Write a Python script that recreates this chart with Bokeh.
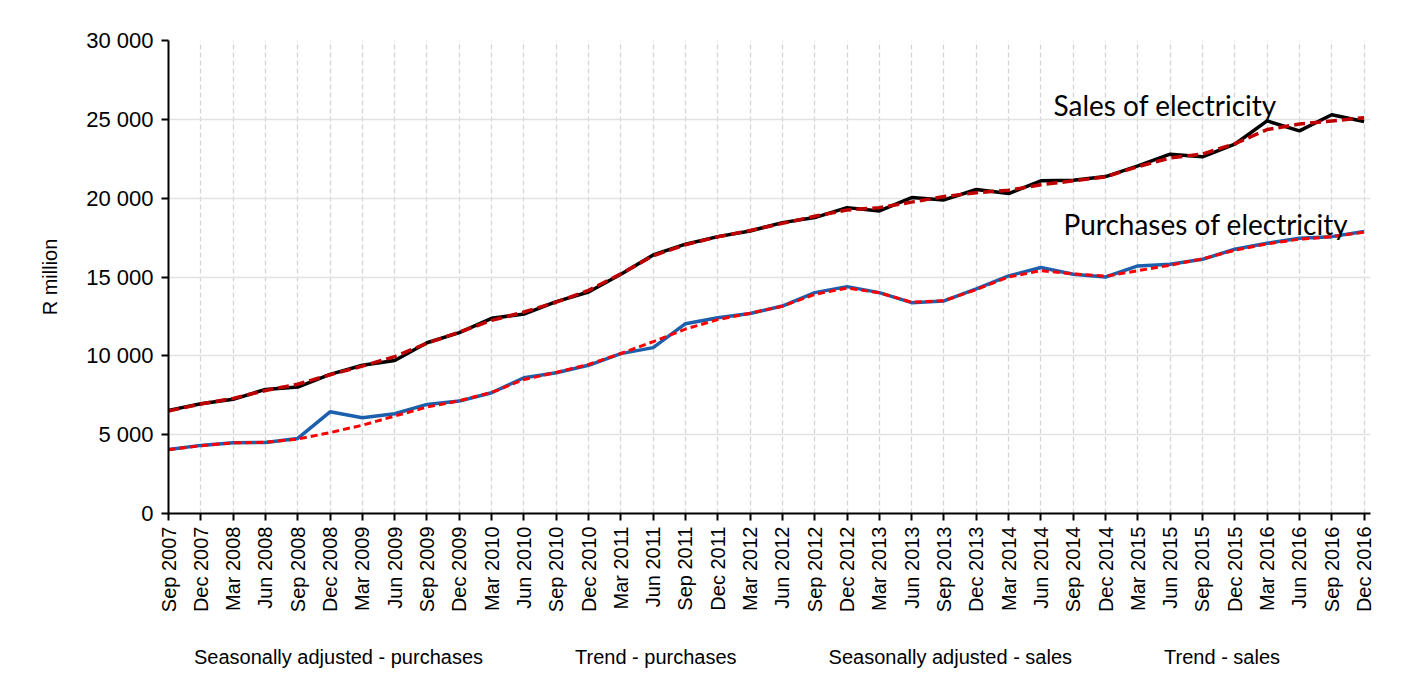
import math
from bokeh.plotting import figure
from bokeh.models import Range1d, FixedTicker, Legend, LegendItem, Label
from bokeh.layouts import column
from bokeh.embed import file_html
from bokeh.resources import INLINE

quarters = [
    "Sep 2007", "Dec 2007", "Mar 2008", "Jun 2008", "Sep 2008", "Dec 2008",
    "Mar 2009", "Jun 2009", "Sep 2009", "Dec 2009", "Mar 2010", "Jun 2010",
    "Sep 2010", "Dec 2010", "Mar 2011", "Jun 2011", "Sep 2011", "Dec 2011",
    "Mar 2012", "Jun 2012", "Sep 2012", "Dec 2012", "Mar 2013", "Jun 2013",
    "Sep 2013", "Dec 2013", "Mar 2014", "Jun 2014", "Sep 2014", "Dec 2014",
    "Mar 2015", "Jun 2015", "Sep 2015", "Dec 2015", "Mar 2016", "Jun 2016",
    "Sep 2016", "Dec 2016",
]

sa_purchases = [
    4060, 4320, 4490, 4510, 4760, 6450, 6070, 6330, 6920, 7130,
    7660, 8610, 8930, 9400, 10140, 10520, 12040, 12420, 12680, 13160,
    14010, 14390, 14010, 13370, 13480, 14250, 15070, 15600, 15170, 15000,
    15700, 15810, 16120, 16760, 17140, 17460, 17560, 17880,
]

trend_purchases = [
    4050, 4300, 4480, 4520, 4720, 5130, 5600, 6180, 6750, 7150,
    7680, 8500, 8950, 9450, 10150, 10900, 11700, 12300, 12700, 13150,
    13900, 14300, 14000, 13400, 13500, 14200, 15000, 15400, 15200, 15050,
    15400, 15750, 16150, 16700, 17100, 17400, 17550, 17850,
]

sa_sales = [
    6540, 6960, 7240, 7870, 8020, 8820, 9400, 9700, 10830, 11470,
    12380, 12650, 13440, 14050, 15170, 16400, 17080, 17560, 17920, 18450,
    18770, 19400, 19190, 20040, 19890, 20550, 20290, 21100, 21140, 21370,
    22050, 22790, 22620, 23420, 24900, 24270, 25290, 24860,
]

trend_sales = [
    6500, 6950, 7300, 7800, 8200, 8800, 9350, 9950, 10800, 11500,
    12250, 12780, 13400, 14150, 15200, 16350, 17050, 17550, 17950, 18400,
    18850, 19250, 19400, 19750, 20100, 20350, 20500, 20850, 21100, 21350,
    22000, 22550, 22800, 23450, 24350, 24700, 24900, 25100,
]

y_ticks = [0, 5000, 10000, 15000, 20000, 25000, 30000]
y_tick_labels = ["0", "5 000", "10 000", "15 000", "20 000", "25 000", "30 000"]

series_names = ["Seasonally adjusted - purchases", "Trend - purchases",
                "Seasonally adjusted - sales", "Trend - sales"]

x = list(range(len(quarters)))
FONT = "Liberation Sans"

STYLES = [
    dict(line_color="#1c5fad", line_width=3.5),
    dict(line_color="#ff0000", line_width=3, line_dash="7 4"),
    dict(line_color="black", line_width=3.5),
    dict(line_color="#c00000", line_width=3.5, line_dash="11 5"),
]

p = figure(
    frame_width=1202, frame_height=473,
    output_backend="svg", toolbar_location=None,
    x_range=Range1d(0, 37.2), y_range=Range1d(0, 30000),
    min_border_left=168, min_border_right=30, min_border_top=40, min_border_bottom=122,
)
p.outline_line_color = None
p.background_fill_color = "white"
p.border_fill_color = "white"

# axes
p.xaxis.ticker = FixedTicker(ticks=x)
p.xaxis.major_label_overrides = {i: q for i, q in zip(x, quarters)}
p.xaxis.major_label_orientation = math.pi / 2
p.yaxis.ticker = FixedTicker(ticks=y_ticks)
p.yaxis.major_label_overrides = {t: l for t, l in zip(y_ticks, y_tick_labels)}
p.yaxis.axis_label = "R million"
p.yaxis.axis_label_text_font = FONT
p.yaxis.axis_label_text_font_size = "20px"
p.yaxis.axis_label_text_font_style = "normal"
p.yaxis.axis_label_text_color = "black"
p.yaxis.axis_label_standoff = 22
for ax in (p.xaxis, p.yaxis):
    ax.axis_line_color = "black"
    ax.axis_line_width = 2
    ax.major_tick_line_color = "black"
    ax.major_tick_line_width = 2
    ax.major_tick_out = 7
    ax.major_tick_in = 0
    ax.minor_tick_line_color = None
    ax.major_label_text_font = FONT
    ax.major_label_text_color = "black"
p.xaxis.major_label_text_font_size = "20px"
p.yaxis.major_label_text_font_size = "22px"
p.xaxis.major_label_standoff = 6
p.yaxis.major_label_standoff = 8

# grids
p.xgrid.ticker = FixedTicker(ticks=x)
p.xgrid.grid_line_color = "#d4d4d4"
p.xgrid.grid_line_dash = "5 3"
p.xgrid.grid_line_width = 1.3
p.ygrid.ticker = FixedTicker(ticks=y_ticks)
p.ygrid.grid_line_color = "#e2e2e2"
p.ygrid.grid_line_width = 1.3

for ys, st in zip([sa_purchases, trend_purchases, sa_sales, trend_sales], STYLES):
    p.line(x, ys, **st)

for txt, lx, ly in [("Sales of electricity", 27.39, 25940),
                    ("Purchases of electricity", 27.7, 18390)]:
    p.add_layout(Label(x=lx, y=ly, text=txt, text_font="Lato",
                       text_font_size="28px", text_color="black",
                       text_baseline="alphabetic"))

# legend strip below the chart (a separate figure so the legend is not clipped)
lg = figure(
    frame_width=1400, frame_height=44, output_backend="svg", toolbar_location=None,
    x_range=Range1d(0, 1), y_range=Range1d(0, 1),
    x_axis_location=None, y_axis_location=None,
    min_border_left=0, min_border_right=0, min_border_top=0, min_border_bottom=0,
)
lg.outline_line_color = None
lg.xgrid.visible = False
lg.ygrid.visible = False
items = []
for name, st in zip(series_names, STYLES):
    r = lg.line(x=[], y=[], **st)
    items.append(LegendItem(label=name, renderers=[r]))
legend = Legend(items=items, orientation="horizontal", location="center")
legend.label_text_font = FONT
legend.label_text_font_size = "20px"
legend.label_text_color = "black"
legend.glyph_width = 68
legend.label_standoff = 6
legend.spacing = 18
legend.border_line_alpha = 0
legend.background_fill_alpha = 0
legend.margin = 0
legend.padding = 0
lg.add_layout(legend, "center")

open("out.html", "w").write(file_html(column(p, lg), INLINE))
